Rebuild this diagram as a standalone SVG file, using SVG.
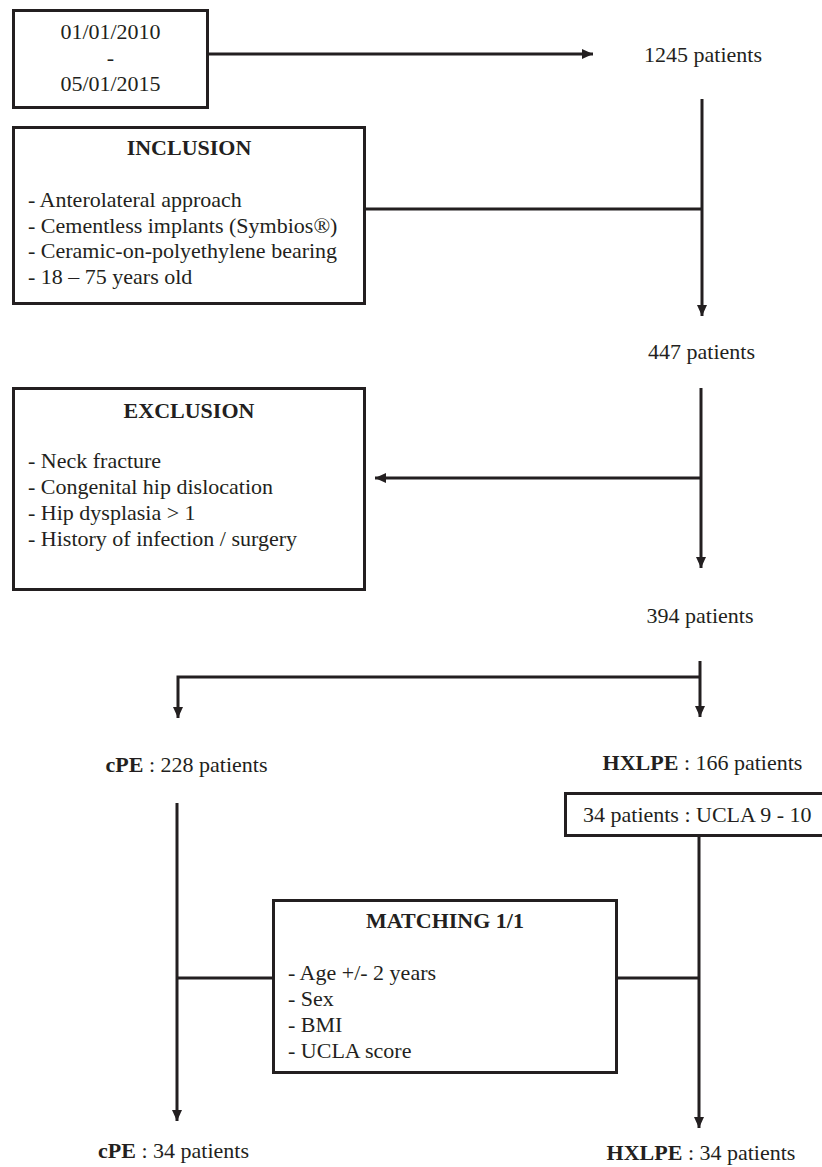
<svg xmlns="http://www.w3.org/2000/svg" width="822" height="1167" viewBox="0 0 822 1167">
<style>
text{font-family:"Liberation Serif","Times New Roman",serif;font-size:22px;fill:#231f20}
.b{font-weight:bold}
.c{text-anchor:middle}
.box{fill:#fff;stroke:#231f20;stroke-width:3}
.ln{fill:none;stroke:#231f20;stroke-width:3}
</style>
<defs>
<marker id="ah" markerUnits="userSpaceOnUse" markerWidth="12" markerHeight="11" refX="11" refY="5" orient="auto">
<path d="M0,0 L11,5 L0,10 z" fill="#231f20"/>
</marker>
</defs>
<rect width="822" height="1167" fill="#fff"/>
<g id="connectors">
<path class="ln" d="M209,54 H593" marker-end="url(#ah)"/>
<path class="ln" d="M702,99 V316" marker-end="url(#ah)"/>
<path class="ln" d="M366,209 H702"/>
<path class="ln" d="M701,388 V568" marker-end="url(#ah)"/>
<path class="ln" d="M701,478 H375" marker-end="url(#ah)"/>
<path class="ln" d="M700,661 V717" marker-end="url(#ah)"/>
<path class="ln" d="M700,677 H178 V718" marker-end="url(#ah)"/>
<path class="ln" d="M699,837 V1128" marker-end="url(#ah)"/>
<path class="ln" d="M618,978 H699"/>
<path class="ln" d="M177,803 V1121" marker-end="url(#ah)"/>
<path class="ln" d="M177,978 H272"/>
</g>
<g id="dates">
<rect class="box" x="13.5" y="10.5" width="194" height="97"/>
<text class="c" x="110.5" y="39">01/01/2010</text>
<text class="c" x="110.5" y="65">-</text>
<text class="c" x="110.5" y="91">05/01/2015</text>
</g>
<g id="n1245"><text class="c" x="703" y="62">1245 patients</text></g>
<g id="inclusion">
<rect class="box" x="13.5" y="127.5" width="351" height="176"/>
<text class="b c" x="189" y="155">INCLUSION</text>
<text x="28" y="207">- Anterolateral approach</text>
<text x="28" y="232.5">- Cementless implants (Symbios®)</text>
<text x="28" y="258">- Ceramic-on-polyethylene bearing</text>
<text x="28" y="284">- 18 – 75 years old</text>
</g>
<g id="n447"><text class="c" x="701.5" y="359">447 patients</text></g>
<g id="exclusion">
<rect class="box" x="13.5" y="388.5" width="351" height="201"/>
<text class="b c" x="189" y="418">EXCLUSION</text>
<text x="28" y="468">- Neck fracture</text>
<text x="28" y="494">- Congenital hip dislocation</text>
<text x="28" y="520">- Hip dysplasia &gt; 1</text>
<text x="28" y="546">- History of infection / surgery</text>
</g>
<g id="n394"><text class="c" x="700" y="623">394 patients</text></g>
<g id="cpe228"><text class="c" x="186.5" y="772"><tspan class="b">cPE</tspan> : 228 patients</text></g>
<g id="hxlpe166"><text class="c" x="702.5" y="770"><tspan class="b">HXLPE</tspan> : 166 patients</text></g>
<g id="ucla">
<rect class="box" x="565.5" y="793.5" width="280" height="42"/>
<text x="583" y="822">34 patients : UCLA 9 - 10</text>
</g>
<g id="matching">
<rect class="box" x="273.5" y="900.5" width="343" height="172"/>
<text class="b c" x="445" y="928">MATCHING 1/1</text>
<text x="288" y="980">- Age +/- 2 years</text>
<text x="288" y="1006">- Sex</text>
<text x="288" y="1032">- BMI</text>
<text x="288" y="1058">- UCLA score</text>
</g>
<g id="cpe34"><text class="c" x="173.5" y="1158"><tspan class="b">cPE</tspan> : 34 patients</text></g>
<g id="hxlpe34"><text class="c" x="701" y="1160"><tspan class="b">HXLPE</tspan> : 34 patients</text></g>
</svg>
